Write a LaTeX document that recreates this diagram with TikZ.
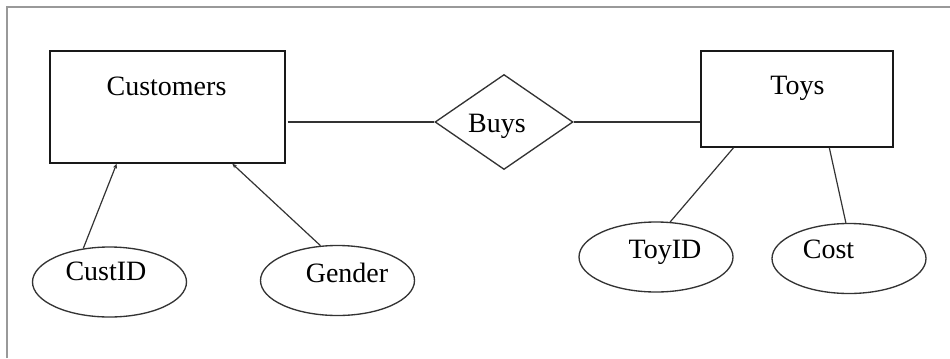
\documentclass[tikz,border=0pt]{standalone}
\usepackage{fontspec}
\setmainfont{Liberation Serif}
\usetikzlibrary{shapes.geometric,arrows.meta,calc}
\begin{document}
\begin{tikzpicture}[x=0.75pt,y=-0.75pt,
  entity/.style={draw=black!90,line width=1.1pt,rectangle,inner sep=0pt},
  rel/.style={draw=black!80,line width=1pt,diamond,inner sep=0pt,minimum width=103.5pt,minimum height=71.25pt},
  attr/.style={draw=black!80,line width=1pt,ellipse,inner sep=0pt,minimum width=115.5pt,minimum height=52.5pt},
  lbl/.style={anchor=base,inner sep=0pt,font=\fontsize{21}{24}\selectfont},
  conn/.style={draw=black!80,line width=0.9pt},
  tip/.style={-{Stealth[length=3.5pt,width=3pt]}}]
\useasboundingbox (0,0) rectangle (950,358);
\draw[black!40,line width=1.2pt] (7,358) -- (7,7) -- (950,7);
% entities
\node[entity,minimum width=176.25pt,minimum height=84pt] (cust) at (167.5,107) {};
\node[lbl] (custlbl) at (166.5,95) {Customers};
\node[entity,minimum width=144pt,minimum height=72pt] (toys) at (797,99) {};
\node[lbl] (toyslbl) at (797.5,94) {Toys};
% relationship
\node[rel] (buys) at (504,122) {};
\node[lbl] (buyslbl) at (497,132) {Buys};
% attributes
\node[attr] (cid) at (109.5,282) {};
\node[lbl] (cidlbl) at (106,280) {CustID};
\node[attr] (gen) at (337.5,280.5) {};
\node[lbl] (genlbl) at (347,282) {Gender};
\node[attr] (tid) at (656,257) {};
\node[lbl] (tidlbl) at (665,258) {ToyID};
\node[attr] (cost) at (849,258.5) {};
\node[lbl] (costlbl) at (828.5,258) {Cost};
% connectors
\draw[conn] ([xshift=1.5pt]buys.west -| cust.east) -- (buys.west);
\draw[conn] (buys.east) -- (buys.east -| toys.west);
\draw[conn,tip] (cid.128) -- ($(cust.south west)!0.285!(cust.south east)$);
\draw[conn,tip] (gen.116) -- ($(cust.south west)!0.774!(cust.south east)$);
\draw[conn] (tid.68) -- ($(toys.south west)!0.172!(toys.south east)$);
\draw[conn] (cost.95) -- ($(toys.south west)!0.667!(toys.south east)$);
\end{tikzpicture}
\end{document}
